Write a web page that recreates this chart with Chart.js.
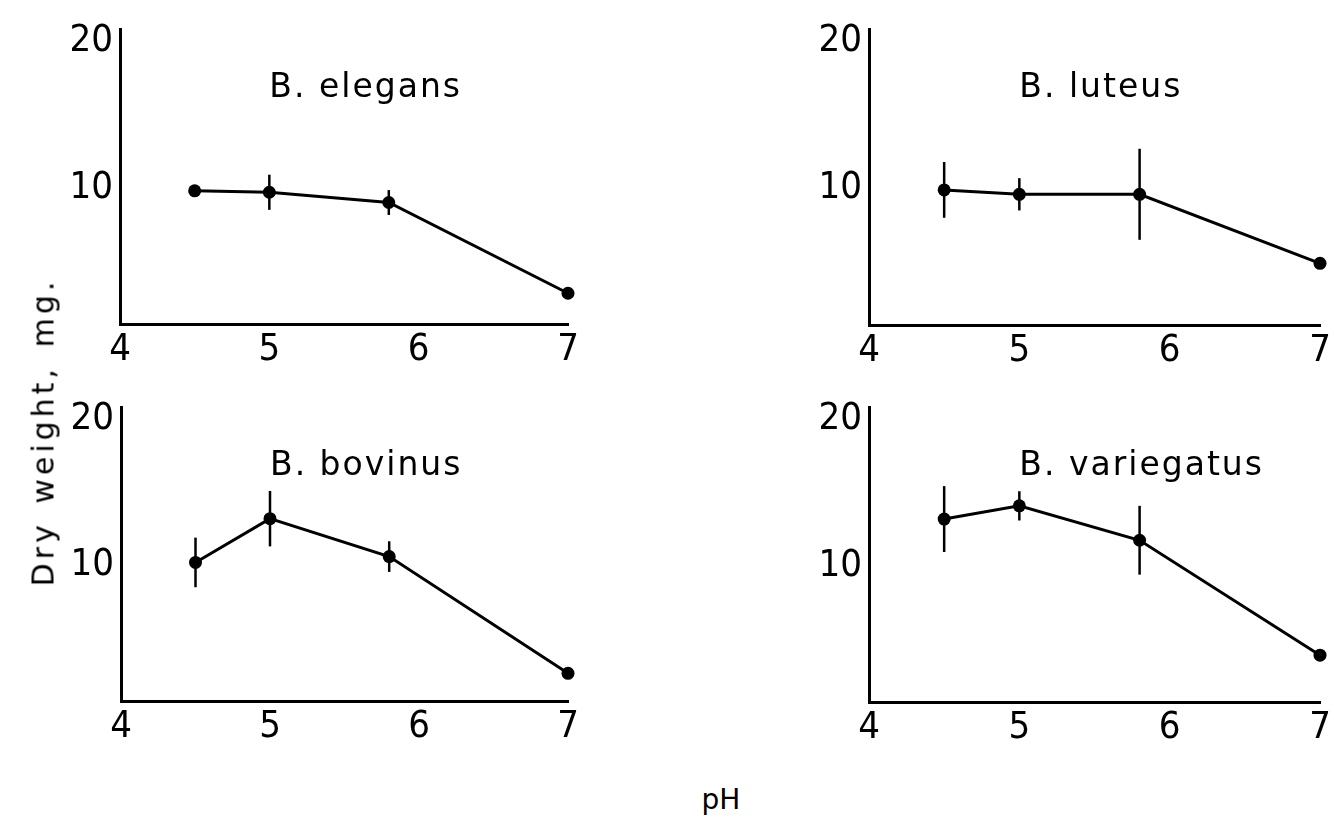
<!DOCTYPE html>
<html>
<head>
<meta charset="utf-8">
<script src="https://cdn.jsdelivr.net/npm/chart.js@4.4.1/dist/chart.umd.min.js"></script>
<style>
  body { margin: 0; background: #fff; }
  #wrap { position: relative; width: 1334px; height: 820px; overflow: hidden; background: #fff; }
  #wrap canvas { position: absolute; }
  .axis-title { position: absolute; font-family: "DejaVu Sans", sans-serif; font-size: 28px; color: #000; white-space: nowrap; }
  #ytitle { left: 43px; top: 432px; font-size: 30px; transform: translate(-50%, -50%) rotate(-90deg); letter-spacing: 4px; word-spacing: 4px; }
  #xtitle { left: 721px; top: 799px; transform: translate(-50%, -50%); }
</style>
</head>
<body>
<div id="wrap">
  <canvas id="c0"></canvas>
  <canvas id="c1"></canvas>
  <canvas id="c2"></canvas>
  <canvas id="c3"></canvas>
  <div class="axis-title" id="ytitle">Dry weight, mg.</div>
  <div class="axis-title" id="xtitle">pH</div>
</div>
<script>
// data
const phLevels = [4.5, 5, 5.8, 7];
const xTicks = [4, 5, 6, 7];
const yTicks = [10, 20];
const speciesNames = ['B. elegans', 'B. luteus', 'B. bovinus', 'B. variegatus'];

const elegansMean = [9.8, 9.7, 9.0, 2.8];
const elegansErr = [0, 1.2, 0.85, 0];
const luteusMean = [9.9, 9.6, 9.6, 4.9];
const luteusErr = [1.9, 1.1, 3.1, 0];
const bovinusMean = [10.2, 13.2, 10.6, 2.6];
const bovinusErr = [1.7, 1.9, 1.05, 0];
const variegatusMean = [13.2, 14.1, 11.75, 3.9];
const variegatusErr = [2.25, 1.0, 2.35, 0];

// plot area boxes on the page: axis x, top, right, bottom
const panelBoxes = [
  [120, 22, 568, 324],
  [869, 22, 1320, 325],
  [121, 400, 568, 701],
  [869, 400, 1320, 702]
];

const LEFT_W = 120, TOP_PAD = 22, RIGHT_PAD = 40, BOTTOM_H = 62;

// draws the species name inside the plot
const speciesLabel = {
  id: 'speciesLabel',
  afterDatasetsDraw(chart, args, opts) {
    const ctx = chart.ctx;
    const x = chart.scales.x.getPixelForValue(opts.at[0]);
    const y = chart.scales.y.getPixelForValue(opts.at[1]);
    ctx.save();
    ctx.font = '33px "DejaVu Sans", sans-serif';
    ctx.fillStyle = '#000';
    ctx.textAlign = 'left';
    ctx.textBaseline = 'alphabetic';
    ctx.letterSpacing = '2px';
    ctx.fillText(opts.text, x, y);
    ctx.restore();
  }
};

function makePanel(i, means, errs) {
  const [ax, top, right, bottom] = panelBoxes[i];
  const canvas = document.getElementById('c' + i);
  const w = LEFT_W + (right - ax) + RIGHT_PAD;
  const h = TOP_PAD + (bottom - top) + BOTTOM_H;
  canvas.width = w;
  canvas.height = h;
  canvas.style.left = (ax - LEFT_W) + 'px';
  canvas.style.top = (top - TOP_PAD) + 'px';

  const datasets = [{
    data: phLevels.map((p, k) => ({ x: p, y: means[k] })),
    showLine: true,
    borderColor: '#000',
    backgroundColor: '#000',
    borderWidth: 3,
    pointRadius: 6.5,
    pointBorderWidth: 0,
    clip: false
  }];
  // vertical error bars, one small line per point
  phLevels.forEach((p, k) => {
    if (!errs[k]) return;
    datasets.push({
      data: [{ x: p, y: means[k] - errs[k] }, { x: p, y: means[k] + errs[k] }],
      showLine: true,
      borderColor: '#000',
      borderWidth: 2.5,
      pointRadius: 0,
      clip: false
    });
  });

  const tickFont = { family: '"Liberation Sans Narrow", "DejaVu Sans Condensed", sans-serif', size: 38 };

  new Chart(canvas, {
    type: 'scatter',
    data: { datasets },
    options: {
      responsive: false,
      animation: false,
      events: [],
      layout: { padding: { top: TOP_PAD, right: RIGHT_PAD, left: 0, bottom: 0 } },
      plugins: {
        legend: { display: false },
        tooltip: { enabled: false },
        speciesLabel: { text: speciesNames[i], at: [5.0, 16.2] }
      },
      scales: {
        x: {
          type: 'linear',
          min: 4, max: 7,
          grid: { display: false, drawTicks: false },
          border: { display: true, color: '#000', width: 3 },
          afterBuildTicks: s => { s.ticks = xTicks.map(v => ({ value: v })); },
          afterFit: s => { s.height = BOTTOM_H; },
          ticks: { color: '#000', font: tickFont, padding: 3, maxRotation: 0 }
        },
        y: {
          type: 'linear',
          min: 0.7, max: 20.8,
          grid: { display: false, drawTicks: false },
          border: { display: true, color: '#000', width: 3 },
          afterBuildTicks: s => { s.ticks = yTicks.map(v => ({ value: v })); },
          afterFit: s => { s.width = LEFT_W; },
          ticks: { color: '#000', font: tickFont, padding: 7 }
        }
      }
    },
    plugins: [speciesLabel]
  });
}

makePanel(0, elegansMean, elegansErr);
makePanel(1, luteusMean, luteusErr);
makePanel(2, bovinusMean, bovinusErr);
makePanel(3, variegatusMean, variegatusErr);
</script>
</body>
</html>
